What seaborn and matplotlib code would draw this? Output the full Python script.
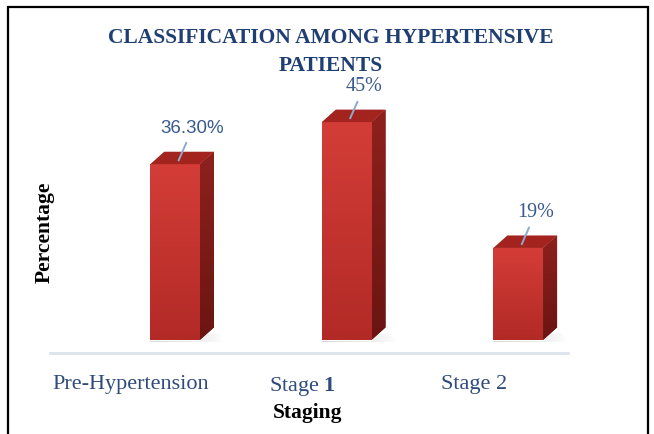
import numpy as np
import matplotlib
matplotlib.use("Agg")
import matplotlib.pyplot as plt
import seaborn as sns
import pandas as pd
from matplotlib.patches import Polygon, Rectangle
from matplotlib.colors import LinearSegmentedColormap
from matplotlib.transforms import ScaledTranslation
from matplotlib.font_manager import FontProperties

# Data
stages = ["Pre-Hypertension", "Stage 1", "Stage 2"]
tick_labels = ["Pre-Hypertension", r"Stage $\mathbf{1}$", "Stage 2"]
percentages = [36.3, 45, 19]
value_labels = ["36.30%", "45%", "19%"]

sns.set_theme(style="white")
plt.rcParams["font.family"] = ["Liberation Serif", "DejaVu Serif"]
plt.rcParams["mathtext.fontset"] = "custom"
plt.rcParams["mathtext.bf"] = "Liberation Serif:bold"
plt.rcParams["mathtext.rm"] = "Liberation Serif"

W, H = 654, 434
fig = plt.figure(figsize=(W / 100, H / 100), dpi=100)
fig.patch.set_facecolor("white")
ax = fig.add_axes([50 / W, (H - 353) / H, (568 - 50) / W, (353 - 80) / H])

df = pd.DataFrame({"Stage": stages, "Percentage": percentages})
sns.barplot(data=df, x="Stage", y="Percentage", color="#C8332E",
            width=0.29, saturation=1, ax=ax, zorder=3)

XLIM = (-0.729, 2.29)
YLIM = (-2.7, 53.7)
ax.set_xlim(*XLIM)
ax.set_ylim(*YLIM)

# pixel -> data scale factors for the 3D depth
ax_w_px = 568 - 50
ax_h_px = 353 - 80
dx = 14 * (XLIM[1] - XLIM[0]) / ax_w_px
dy = 12.5 * (YLIM[1] - YLIM[0]) / ax_h_px

front_cmap = LinearSegmentedColormap.from_list("front", ["#B22A26", "#D43D37"])
side_cmap = LinearSegmentedColormap.from_list("side", ["#6A1512", "#8E211D"])
shadow_cmap = LinearSegmentedColormap.from_list(
    "shadow", [(0.55, 0.55, 0.55, 0.0), (0.55, 0.55, 0.55, 0.45)])
grad = np.linspace(0, 1, 256).reshape(-1, 1)
hgrad = np.linspace(1, 0, 256).reshape(1, -1)

sans_narrow = FontProperties(family=["Liberation Sans Narrow", "Liberation Sans"], size=13.5)
serif_fp = FontProperties(family=["Liberation Serif"], size=14.5)

for bar, label in zip(ax.patches, value_labels):
    x0 = bar.get_x()
    x1 = x0 + bar.get_width()
    h = bar.get_height()

    # soft floor shadow
    shadow = Polygon([(x0 - 0.01, -0.5), (x1 + dx + 0.06, -0.5),
                      (x1 + dx + 0.03, dy * 0.5), (x0 + dx, dy * 0.5)],
                     closed=True, facecolor="none", edgecolor="none", zorder=1)
    ax.add_patch(shadow)
    ims = ax.imshow(hgrad, extent=[x0, x1 + dx + 0.07, -0.5, dy * 0.5],
                    aspect="auto", cmap=shadow_cmap, zorder=1)
    ims.set_clip_path(shadow)

    # front face gradient
    im = ax.imshow(grad, extent=[x0, x1, 0, h], origin="lower",
                   aspect="auto", cmap=front_cmap, zorder=3.5)
    im.set_clip_path(bar)

    # side face
    side = Polygon([(x1, 0), (x1 + dx, dy), (x1 + dx, h + dy), (x1, h)],
                   closed=True, facecolor="#7E1B18", edgecolor="none", zorder=3)
    ax.add_patch(side)
    im2 = ax.imshow(grad, extent=[x1, x1 + dx, 0, h + dy], origin="lower",
                    aspect="auto", cmap=side_cmap, zorder=3.2)
    im2.set_clip_path(side)

    # top face
    top = Polygon([(x0, h), (x1, h), (x1 + dx, h + dy), (x0 + dx, h + dy)],
                  closed=True, facecolor="#A3231F", edgecolor="none", zorder=3.6)
    ax.add_patch(top)

    # value label with leader line
    cx = (x0 + x1) / 2
    fp = sans_narrow if "." in label else serif_fp
    ax.annotate(label, xy=(cx + dx * 0.25, h + dy * 0.3),
                xytext=(14, 32), textcoords="offset pixels",
                ha="center", va="center", fontproperties=fp,
                color="#3A5B8E", zorder=6,
                arrowprops=dict(arrowstyle="-", color="#8FA9CB", lw=1.4,
                                shrinkA=2, shrinkB=0))

ax.set_xlim(*XLIM)
ax.set_ylim(*YLIM)

# axes styling
for s in ["left", "top", "right"]:
    ax.spines[s].set_visible(False)
ax.spines["bottom"].set_color("#DCE3EC")
ax.spines["bottom"].set_linewidth(2)
ax.set_yticks([])
ax.set_xticks(range(len(stages)))
ax.set_xticklabels(tick_labels, fontsize=16, color="#2F4B7C")
ax.tick_params(axis="x", length=0, pad=16)
shift = ScaledTranslation(-44 / 100, 0, fig.dpi_scale_trans)
for t in ax.get_xticklabels():
    t.set_transform(t.get_transform() + shift)

ax.set_xlabel("")
ax.set_ylabel("")
ax.set_facecolor("white")

# axis titles
fig.text(308 / W, 1 - 413 / H, "Staging", ha="center", va="center",
         fontsize=15.5, fontweight="bold", color="black")
fig.text(45 / W, 1 - 232 / H, "Percentage", ha="center", va="center",
         rotation=90, fontsize=15.5, fontweight="bold", color="black")

# chart title
fig.text(331 / W, 1 - 38 / H, "CLASSIFICATION AMONG HYPERTENSIVE",
         ha="center", va="center", fontsize=15.5, fontweight="bold",
         color="#1F3E72")
fig.text(331 / W, 1 - 66 / H, "PATIENTS", ha="center", va="center",
         fontsize=15.5, fontweight="bold", color="#1F3E72")

# outer frame
fig.patches.append(Rectangle((8 / W, -0.05), (648 - 8) / W, 1.05 - 7 / H,
                             transform=fig.transFigure, fill=False,
                             edgecolor="black", linewidth=1.6))

fig.savefig("out.png", dpi=100)
